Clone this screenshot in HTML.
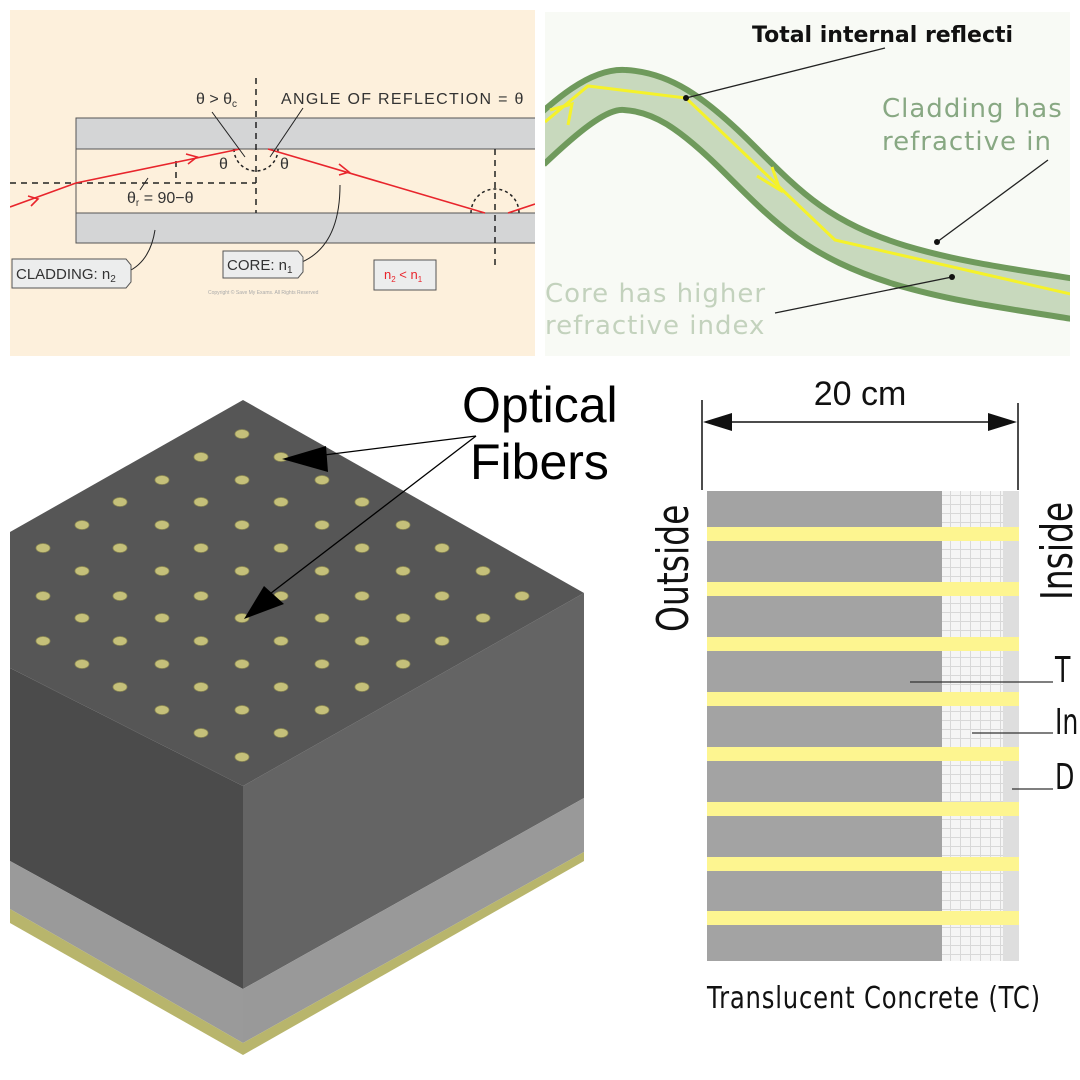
<!DOCTYPE html>
<html><head><meta charset="utf-8"><style>
html,body{margin:0;padding:0;background:#fff}
svg{display:block}
</style></head><body>
<svg width="1080" height="1080" viewBox="0 0 1080 1080" xmlns="http://www.w3.org/2000/svg">
<defs>
<clipPath id="c1"><rect x="10" y="10" width="525" height="346"/></clipPath>
<clipPath id="c2"><rect x="545" y="12" width="525" height="344"/></clipPath>
<pattern id="brick" width="10" height="9" patternUnits="userSpaceOnUse">
<rect width="10" height="9" fill="#f5f5f5"/>
<path d="M0 0.5H10M0.5 0V9" stroke="#d8d8d8" stroke-width="1"/>
</pattern>
</defs>
<rect width="1080" height="1080" fill="#fff"/>
<!-- Top-left panel -->
<g clip-path="url(#c1)">
<rect x="10" y="10" width="525" height="346" fill="#fdf0dc"/>
<rect x="76" y="118" width="470" height="31" fill="#d4d5d6" stroke="#555" stroke-width="1"/>
<rect x="76" y="149" width="470" height="64" fill="#fdf0dc" stroke="#555" stroke-width="1"/>
<rect x="76" y="213" width="470" height="30" fill="#d4d5d6" stroke="#555" stroke-width="1"/>
<g stroke="#222" stroke-width="1.5" stroke-dasharray="6,5" fill="none">
<line x1="256" y1="78" x2="256" y2="213"/>
<line x1="10" y1="183" x2="256" y2="183"/>
<line x1="176" y1="161" x2="176" y2="183"/>
<line x1="495" y1="149" x2="495" y2="268"/>
<path d="M234 149 A22 22 0 0 0 278 149" stroke-dasharray="3,3"/>
<path d="M471 213 A24 24 0 0 1 519 213" stroke-dasharray="3,3"/>
</g>
<g stroke="#e8252c" stroke-width="1.6" fill="none">
<polyline points="10,207 76,183 240,149"/>
<polyline points="268,149 485,213"/>
<polyline points="508,213 535,204"/>
<polyline points="28,196 38,199 31,206"/>
<polyline points="186,154 197,157 188,164"/>
<polyline points="339,164 349,172 339,175"/>
</g>
<g stroke="#222" stroke-width="1" fill="none">
<line x1="212" y1="112" x2="245" y2="157"/>
<line x1="303" y1="108" x2="270" y2="157"/>
<line x1="140" y1="190" x2="148" y2="178"/>
<path d="M127 272 Q150 262 155 230"/>
<path d="M302 262 Q340 245 340 185"/>
</g>
<g font-family="Liberation Sans, sans-serif" font-size="16" fill="#333">
<text x="196" y="104">θ &gt; θ<tspan font-size="10" dy="3">c</tspan></text>
<text x="281" y="104" letter-spacing="1.3">ANGLE  OF  REFLECTION = θ</text>
<text x="219" y="169">θ</text>
<text x="280" y="169">θ</text>
<text x="127" y="203">θ<tspan font-size="10" dy="3">r</tspan><tspan dy="-3"> = 90−θ</tspan></text>
</g>
<path d="M12 259 H126 L131 265 V282 L126 288 H12 Z" fill="#eceded" stroke="#555"/>
<text x="16" y="279" font-family="Liberation Sans, sans-serif" font-size="15" fill="#333">CLADDING: n<tspan font-size="10" dy="3">2</tspan></text>
<path d="M223 251 H298 L303 257 V272 L298 278 H223 Z" fill="#eceded" stroke="#555"/>
<text x="227" y="270" font-family="Liberation Sans, sans-serif" font-size="15" fill="#333">CORE: n<tspan font-size="10" dy="3">1</tspan></text>
<rect x="374" y="260" width="62" height="30" fill="#eceded" stroke="#555"/>
<text x="384" y="279" font-family="Liberation Sans, sans-serif" font-size="13" fill="#e8252c">n<tspan font-size="8" dy="3">2</tspan><tspan dy="-3"> &lt; n</tspan><tspan font-size="8" dy="3">1</tspan></text>
<text x="208" y="294" font-family="Liberation Sans, sans-serif" font-size="5" fill="#aaa">Copyright © Save My Exams. All Rights Reserved</text>
</g>

<!-- Top-right panel -->
<g clip-path="url(#c2)">
<rect x="545" y="12" width="525" height="344" fill="#f8faf5"/>
<path d="M530 150 C570 112 600 88 625 90 C660 92 690 110 740 160 C790 210 820 240 900 265 C960 283 1020 290 1080 300" fill="none" stroke="#6f9a5c" stroke-width="46"/>
<path d="M530 150 C570 112 600 88 625 90 C660 92 690 110 740 160 C790 210 820 240 900 265 C960 283 1020 290 1080 300" fill="none" stroke="#c8d9bd" stroke-width="34"/>
<polyline points="545,122 588,86 686,98 835,240 1075,295" fill="none" stroke="#f5f22a" stroke-width="3"/>
<polyline points="550,110 572,104 568,125" fill="none" stroke="#f5f22a" stroke-width="3"/>
<polyline points="757,176 780,190 772,167" fill="none" stroke="#f5f22a" stroke-width="3"/>
<g stroke="#222" stroke-width="1.3">
<line x1="686" y1="98" x2="885" y2="48"/>
<line x1="937" y1="242" x2="1048" y2="160"/>
<line x1="952" y1="277" x2="775" y2="313"/>
</g>
<circle cx="686" cy="98" r="3" fill="#111"/><circle cx="937" cy="242" r="3" fill="#111"/><circle cx="952" cy="277" r="3" fill="#111"/>
<g font-family="DejaVu Sans, sans-serif">
<text x="752" y="42" font-size="22" font-weight="bold" fill="#111">Total internal reflecti</text>
<text x="882" y="117" font-size="26" letter-spacing="1" fill="#88a883">Cladding has</text>
<text x="882" y="150" font-size="26" letter-spacing="1" fill="#88a883">refractive in</text>
<text x="545" y="302" font-size="26" letter-spacing="1" fill="#c3d2bd">Core has higher</text>
<text x="545" y="334" font-size="26" letter-spacing="1" fill="#c3d2bd">refractive index</text>
</g>
</g>

<!-- Bottom-left cube -->
<polygon points="10,668 243,786 243,989 10,861" fill="#4b4b4b"/>
<polygon points="10,861 243,989 243,1043 10,909" fill="#9a9a9a"/>
<polygon points="10,909 243,1043 243,1055 10,923" fill="#b8b56c"/>
<polygon points="243,786 584,593 584,798 243,989" fill="#646464"/>
<polygon points="243,989 584,798 584,852 243,1043" fill="#999"/>
<polygon points="243,1043 584,852 584,861 243,1055" fill="#b8b56c"/>
<polygon points="243,400 584,593 243,786 10,668 10,532" fill="#565656"/>
<g fill="#c5c07a" stroke="#8f8c55" stroke-width="0.8">
<ellipse cx="242" cy="434" rx="7" ry="4.5"/>
<ellipse cx="201" cy="457" rx="7" ry="4.5"/><ellipse cx="281" cy="457" rx="7" ry="4.5"/>
<ellipse cx="162" cy="480" rx="7" ry="4.5"/><ellipse cx="242" cy="480" rx="7" ry="4.5"/><ellipse cx="322" cy="480" rx="7" ry="4.5"/>
<ellipse cx="120" cy="502" rx="7" ry="4.5"/><ellipse cx="201" cy="502" rx="7" ry="4.5"/><ellipse cx="281" cy="502" rx="7" ry="4.5"/><ellipse cx="362" cy="502" rx="7" ry="4.5"/>
<ellipse cx="82" cy="525" rx="7" ry="4.5"/><ellipse cx="162" cy="525" rx="7" ry="4.5"/><ellipse cx="242" cy="525" rx="7" ry="4.5"/><ellipse cx="322" cy="525" rx="7" ry="4.5"/><ellipse cx="403" cy="525" rx="7" ry="4.5"/>
<ellipse cx="43" cy="548" rx="7" ry="4.5"/><ellipse cx="120" cy="548" rx="7" ry="4.5"/><ellipse cx="201" cy="548" rx="7" ry="4.5"/><ellipse cx="281" cy="548" rx="7" ry="4.5"/><ellipse cx="362" cy="548" rx="7" ry="4.5"/><ellipse cx="442" cy="548" rx="7" ry="4.5"/>
<ellipse cx="82" cy="571" rx="7" ry="4.5"/><ellipse cx="162" cy="571" rx="7" ry="4.5"/><ellipse cx="242" cy="571" rx="7" ry="4.5"/><ellipse cx="322" cy="571" rx="7" ry="4.5"/><ellipse cx="403" cy="571" rx="7" ry="4.5"/><ellipse cx="483" cy="571" rx="7" ry="4.5"/>
<ellipse cx="43" cy="596" rx="7" ry="4.5"/><ellipse cx="120" cy="596" rx="7" ry="4.5"/><ellipse cx="201" cy="596" rx="7" ry="4.5"/><ellipse cx="281" cy="596" rx="7" ry="4.5"/><ellipse cx="362" cy="596" rx="7" ry="4.5"/><ellipse cx="442" cy="596" rx="7" ry="4.5"/><ellipse cx="522" cy="596" rx="7" ry="4.5"/>
<ellipse cx="82" cy="618" rx="7" ry="4.5"/><ellipse cx="162" cy="618" rx="7" ry="4.5"/><ellipse cx="242" cy="618" rx="7" ry="4.5"/><ellipse cx="322" cy="618" rx="7" ry="4.5"/><ellipse cx="403" cy="618" rx="7" ry="4.5"/><ellipse cx="483" cy="618" rx="7" ry="4.5"/>
<ellipse cx="43" cy="641" rx="7" ry="4.5"/><ellipse cx="120" cy="641" rx="7" ry="4.5"/><ellipse cx="201" cy="641" rx="7" ry="4.5"/><ellipse cx="281" cy="641" rx="7" ry="4.5"/><ellipse cx="362" cy="641" rx="7" ry="4.5"/><ellipse cx="442" cy="641" rx="7" ry="4.5"/>
<ellipse cx="82" cy="664" rx="7" ry="4.5"/><ellipse cx="162" cy="664" rx="7" ry="4.5"/><ellipse cx="242" cy="664" rx="7" ry="4.5"/><ellipse cx="322" cy="664" rx="7" ry="4.5"/><ellipse cx="403" cy="664" rx="7" ry="4.5"/>
<ellipse cx="120" cy="687" rx="7" ry="4.5"/><ellipse cx="201" cy="687" rx="7" ry="4.5"/><ellipse cx="281" cy="687" rx="7" ry="4.5"/><ellipse cx="362" cy="687" rx="7" ry="4.5"/>
<ellipse cx="162" cy="710" rx="7" ry="4.5"/><ellipse cx="242" cy="710" rx="7" ry="4.5"/><ellipse cx="322" cy="710" rx="7" ry="4.5"/>
<ellipse cx="201" cy="733" rx="7" ry="4.5"/><ellipse cx="281" cy="733" rx="7" ry="4.5"/>
<ellipse cx="242" cy="757" rx="7" ry="4.5"/>
</g>
<g stroke="#000" stroke-width="1.3">
<line x1="476" y1="436" x2="300" y2="458"/>
<line x1="476" y1="436" x2="262" y2="600"/>
</g>
<polygon points="282,459 326,446 328,472" fill="#000"/>
<polygon points="244,619 264,586 284,604" fill="#000"/>
<g font-family="Liberation Sans, sans-serif" font-size="50" fill="#000">
<text x="462" y="422">Optical</text>
<text x="470" y="479">Fibers</text>
</g>

<!-- Bottom-right wall -->
<line x1="702" y1="400" x2="702" y2="490" stroke="#111" stroke-width="1.5"/>
<line x1="1018" y1="403" x2="1018" y2="490" stroke="#111" stroke-width="1.5"/>
<line x1="720" y1="422" x2="1000" y2="422" stroke="#111" stroke-width="1.5"/>
<polygon points="703,422 732,413 732,431" fill="#111"/>
<polygon points="1017,422 988,413 988,431" fill="#111"/>
<text x="860" y="405" text-anchor="middle" font-family="Liberation Sans, sans-serif" font-size="34" fill="#111">20 cm</text>
<rect x="707" y="491" width="235" height="470" fill="#a3a3a3"/>
<rect x="942" y="491" width="61" height="470" fill="url(#brick)"/>
<rect x="1003" y="491" width="16" height="470" fill="#dedede"/>
<g fill="#fdf590">
<rect x="707" y="527" width="312" height="14"/>
<rect x="707" y="582" width="312" height="14"/>
<rect x="707" y="637" width="312" height="14"/>
<rect x="707" y="692" width="312" height="14"/>
<rect x="707" y="747" width="312" height="14"/>
<rect x="707" y="802" width="312" height="14"/>
<rect x="707" y="857" width="312" height="14"/>
<rect x="707" y="911" width="312" height="14"/>
</g>
<g stroke="#333" stroke-width="1.3">
<line x1="910" y1="682" x2="1053" y2="682"/>
<line x1="972" y1="733" x2="1053" y2="733"/>
<line x1="1012" y1="789" x2="1053" y2="789"/>
</g>
<g font-family="DejaVu Sans, sans-serif" fill="#111">
<text transform="translate(688,632) rotate(-90) scale(0.75,1)" font-size="44">Outside</text>
<text transform="translate(1072,600) rotate(-90) scale(0.75,1)" font-size="44">Inside</text>
<text transform="translate(1055,682) scale(0.7,1)" font-size="36">T</text>
<text transform="translate(1055,734) scale(0.7,1)" font-size="36">In</text>
<text transform="translate(1055,789) scale(0.7,1)" font-size="36">D</text>
<text transform="translate(707,1008) scale(0.81,1)" font-size="30" letter-spacing="1">Translucent Concrete (TC)</text>
</g>
</svg>
</body></html>
